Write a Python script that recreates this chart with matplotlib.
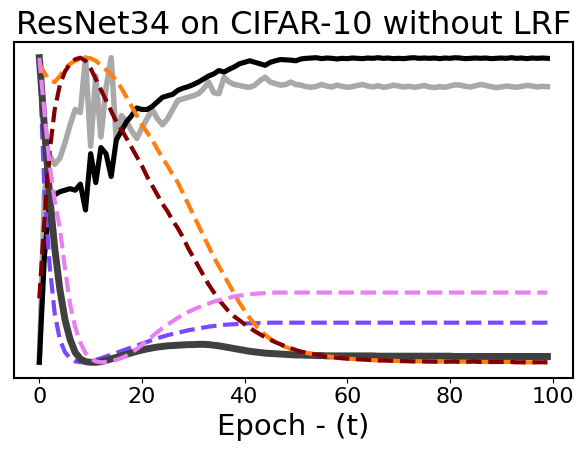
import matplotlib
matplotlib.use("Agg")
import matplotlib.pyplot as plt

epochs = list(range(100))

train_acc = [0.0, 0.35, 0.52, 0.55, 0.56, 0.565, 0.57, 0.565, 0.585, 0.50,
             0.685, 0.59, 0.705, 0.685, 0.61, 0.73, 0.76, 0.79, 0.81, 0.835,
             0.83, 0.83, 0.84, 0.855, 0.87, 0.875, 0.88, 0.893, 0.9, 0.905,
             0.912, 0.92, 0.93, 0.94, 0.947, 0.958, 0.953, 0.962, 0.97, 0.98,
             0.985, 0.99, 0.985, 0.98, 0.975, 0.985, 0.99, 0.994, 0.993, 0.992,
             0.99, 0.996, 0.998, 0.999, 1.0, 0.997, 0.999, 0.998, 0.996, 0.998,
             0.997, 0.999, 0.998, 0.997, 0.999, 0.998, 1.0, 0.998, 0.999, 0.997,
             0.998, 0.997, 0.999, 1.0, 0.998, 0.999, 0.998, 0.999, 0.997, 0.999,
             0.998, 1.0, 0.999, 0.997, 0.998, 0.999, 0.998, 0.999, 0.997, 0.998,
             0.999, 0.998, 1.0, 0.998, 0.999, 0.997, 0.999, 0.998, 0.999, 0.998]

test_acc = [0.0, 0.55, 0.68, 0.65, 0.67, 0.72, 0.78, 0.83, 0.82, 1.0,
            0.71, 0.94, 0.74, 0.90, 1.0, 0.73, 0.81, 0.79, 0.76, 0.735,
            0.77, 0.80, 0.83, 0.80, 0.78, 0.80, 0.83, 0.86, 0.865, 0.87,
            0.875, 0.882, 0.898, 0.92, 0.885, 0.882, 0.936, 0.92, 0.912, 0.909,
            0.905, 0.903, 0.91, 0.925, 0.936, 0.92, 0.915, 0.91, 0.912, 0.92,
            0.912, 0.91, 0.905, 0.903, 0.906, 0.912, 0.907, 0.904, 0.91, 0.906,
            0.903, 0.905, 0.909, 0.912, 0.907, 0.904, 0.908, 0.903, 0.905, 0.91,
            0.907, 0.904, 0.906, 0.903, 0.905, 0.909, 0.904, 0.902, 0.905, 0.903,
            0.907, 0.911, 0.91, 0.906, 0.904, 0.908, 0.912, 0.909, 0.905, 0.902,
            0.904, 0.907, 0.905, 0.903, 0.906, 0.909, 0.907, 0.904, 0.906, 0.905]

train_loss = [1.0, 0.77, 0.55, 0.375, 0.24, 0.14, 0.075, 0.032, 0.011, 0.002,
              0.0, 0.0, 0.002, 0.006, 0.011, 0.016, 0.021, 0.026, 0.031, 0.036,
              0.04, 0.044, 0.047, 0.05, 0.052, 0.054, 0.055, 0.056, 0.057, 0.058,
              0.058, 0.059, 0.059, 0.058, 0.056, 0.054, 0.051, 0.048, 0.045, 0.042,
              0.039, 0.036, 0.034, 0.032, 0.03, 0.029, 0.028, 0.027, 0.026, 0.025,
              0.024, 0.024, 0.023, 0.023, 0.022, 0.022, 0.021, 0.021, 0.021, 0.021,
              0.021, 0.021, 0.021, 0.021, 0.021, 0.021, 0.02, 0.02, 0.02, 0.02,
              0.02, 0.02, 0.02, 0.02, 0.02, 0.02, 0.02, 0.02, 0.02, 0.02,
              0.02, 0.019, 0.019, 0.019, 0.019, 0.019, 0.019, 0.019, 0.019, 0.019,
              0.019, 0.019, 0.019, 0.019, 0.019, 0.019, 0.019, 0.019, 0.019, 0.019]

orange_series = [0.98, 0.95, 0.925, 0.92, 0.94, 0.965, 0.98, 0.99, 0.997, 1.0,
                 0.998, 0.99, 0.975, 0.96, 0.945, 0.925, 0.9, 0.87, 0.84, 0.81,
                 0.78, 0.755, 0.73, 0.70, 0.67, 0.645, 0.615, 0.59, 0.555, 0.52,
                 0.485, 0.45, 0.415, 0.38, 0.345, 0.315, 0.285, 0.255, 0.225, 0.195,
                 0.17, 0.145, 0.125, 0.105, 0.09, 0.077, 0.066, 0.058, 0.05, 0.044,
                 0.039, 0.035, 0.031, 0.028, 0.025, 0.022, 0.02, 0.018, 0.016, 0.014,
                 0.012, 0.011, 0.01, 0.009, 0.008, 0.007, 0.006, 0.006, 0.005, 0.005,
                 0.004, 0.004, 0.003, 0.003, 0.003, 0.003, 0.002, 0.002, 0.002, 0.002,
                 0.002, 0.002, 0.002, 0.002, 0.002, 0.002, 0.001, 0.001, 0.001, 0.001,
                 0.001, 0.001, 0.001, 0.0, 0.0, 0.0, 0.0, 0.0, 0.0, 0.0]

red_series = [0.21, 0.47, 0.69, 0.83, 0.91, 0.955, 0.98, 0.995, 1.0, 0.99,
              0.965, 0.93, 0.895, 0.86, 0.825, 0.79, 0.765, 0.735, 0.705, 0.675,
              0.645, 0.61, 0.58, 0.55, 0.52, 0.495, 0.465, 0.44, 0.41, 0.375,
              0.345, 0.315, 0.285, 0.255, 0.23, 0.205, 0.185, 0.165, 0.15, 0.138,
              0.125, 0.113, 0.102, 0.092, 0.082, 0.074, 0.066, 0.059, 0.052, 0.046,
              0.04, 0.035, 0.031, 0.028, 0.025, 0.022, 0.019, 0.017, 0.015, 0.013,
              0.012, 0.011, 0.01, 0.009, 0.008, 0.007, 0.006, 0.006, 0.005, 0.005,
              0.004, 0.004, 0.003, 0.003, 0.003, 0.003, 0.002, 0.002, 0.002, 0.002,
              0.002, 0.002, 0.002, 0.002, 0.002, 0.002, 0.001, 0.001, 0.001, 0.001,
              0.001, 0.001, 0.001, 0.0, 0.0, 0.0, 0.0, 0.0, 0.0, 0.0]

violet_series = [1.0, 0.82, 0.65, 0.53, 0.44, 0.31, 0.19, 0.115, 0.065, 0.03,
                 0.012, 0.003, 0.0, 0.001, 0.004, 0.008, 0.014, 0.022, 0.032, 0.044,
                 0.057, 0.071, 0.085, 0.099, 0.112, 0.124, 0.135, 0.146, 0.156, 0.165,
                 0.173, 0.18, 0.187, 0.193, 0.199, 0.204, 0.208, 0.212, 0.216, 0.219,
                 0.221, 0.223, 0.225, 0.226, 0.227, 0.228, 0.229, 0.229, 0.229, 0.229,
                 0.229, 0.229, 0.229, 0.229, 0.229, 0.229, 0.229, 0.229, 0.229, 0.229,
                 0.229, 0.229, 0.229, 0.229, 0.229, 0.229, 0.229, 0.229, 0.229, 0.229,
                 0.229, 0.229, 0.229, 0.229, 0.229, 0.229, 0.229, 0.229, 0.229, 0.229,
                 0.229, 0.229, 0.229, 0.229, 0.229, 0.229, 0.229, 0.229, 0.229, 0.229,
                 0.229, 0.229, 0.229, 0.229, 0.229, 0.229, 0.229, 0.229, 0.229, 0.229]

blue_series = [1.0, 0.56, 0.32, 0.16, 0.075, 0.033, 0.013, 0.003, 0.0, 0.001,
               0.004, 0.008, 0.013, 0.019, 0.025, 0.031, 0.037, 0.043, 0.049, 0.055,
               0.061, 0.067, 0.073, 0.079, 0.084, 0.089, 0.093, 0.097, 0.101, 0.105,
               0.108, 0.111, 0.114, 0.117, 0.119, 0.121, 0.123, 0.124, 0.125, 0.126,
               0.127, 0.128, 0.128, 0.129, 0.129, 0.13, 0.13, 0.13, 0.13, 0.13,
               0.13, 0.13, 0.13, 0.13, 0.13, 0.13, 0.13, 0.13, 0.13, 0.13,
               0.13, 0.13, 0.13, 0.13, 0.13, 0.13, 0.13, 0.13, 0.13, 0.13,
               0.13, 0.13, 0.13, 0.13, 0.13, 0.13, 0.13, 0.13, 0.13, 0.13,
               0.13, 0.13, 0.13, 0.13, 0.13, 0.13, 0.13, 0.13, 0.13, 0.13,
               0.13, 0.13, 0.13, 0.13, 0.13, 0.13, 0.13, 0.13, 0.13, 0.13]

title = "ResNet34 on CIFAR-10 without LRF"
xlabel = "Epoch - (t)"
xticks = [0, 20, 40, 60, 80, 100]

fig = plt.figure(figsize=(5.87, 4.54), dpi=100)
ax = fig.add_axes([0.0237, 0.1685, 0.9521, 0.7379])

ax.plot(epochs, test_acc, color="#a9a9a9", lw=4)
ax.plot(epochs, train_acc, color="black", lw=3.7)
ax.plot(epochs, blue_series, color="#7a48ff", lw=3, ls="--")
ax.plot(epochs, train_loss, color="#404040", lw=5)
ax.plot(epochs, orange_series, color="#ff7f0e", lw=3, ls="--")
ax.plot(epochs, red_series, color="#800000", lw=3, ls="--")
ax.plot(epochs, violet_series, color="#e87ff2", lw=3, ls="--")

ax.set_title(title, fontsize=23)
ax.set_xlabel(xlabel, fontsize=21)
ax.set_xticks(xticks)
ax.tick_params(axis="x", labelsize=16)
ax.set_yticks([])
for s in ax.spines.values():
    s.set_linewidth(1.5)

fig.savefig("out.png", dpi=100)
